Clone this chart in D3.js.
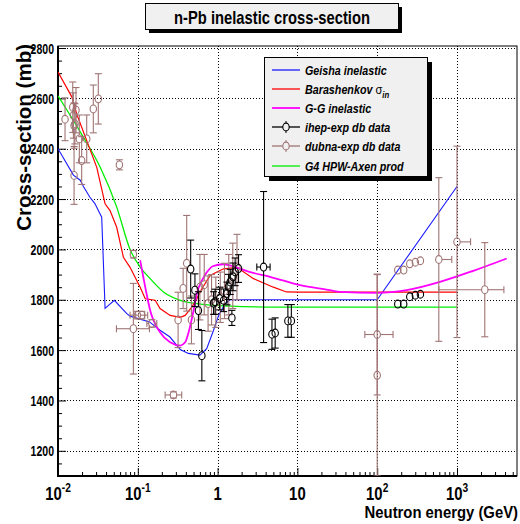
<!DOCTYPE html>
<html><head><meta charset="utf-8">
<script src="https://cdn.jsdelivr.net/npm/d3@7"></script>
<style>body{margin:0;background:#fff}svg{display:block}text{font-family:"Liberation Sans",Arial,sans-serif}</style>
</head><body>
<svg id="c" width="520" height="524"></svg>
<script>
// ---- data ----
const xMajor=[0.01,0.1,1,10,100,1000];
const xLabelBase=["10","10","1","10","10","10"];
const xLabelExp=["-2","-1","","","2","3"];
const yMajor=[1200,1400,1600,1800,2000,2200,2400,2600,2800];

const geishaE=[0.01,0.0156,0.019,0.021,0.025,0.029,0.0353,0.0389,0.0508,0.0728,0.08,0.14,0.19,0.253,0.34,0.43,0.6,0.73,0.89,1.03,1.24,1.44,100,1000];
const geishaV=[2400,2295,2275,2248,2208,2182,2128,1766,1798,1745,1735,1712,1679,1652,1602,1587,1580,1606,1679,1738,1785,1800,1800,2250];

const baraE=[0.01,0.0149,0.0172,0.0229,0.0306,0.0389,0.0449,0.0544,0.066,0.08,0.107,0.124,0.165,0.19,0.254,0.34,0.392,0.475,0.549,0.635,0.807,0.98,1.19,1.75,2.82,5.0,7.3,10.8,1000];
const baraV=[2705,2606,2537,2432,2326,2181,2154,2088,1969,1929,1850,1804,1798,1765,1738,1730,1738,1771,1804,1844,1897,1910,1923,1929,1884,1850,1831,1830,1830];

const ggE=[0.107,0.124,0.143,0.19,0.254,0.34,0.392,0.44,0.50,0.55,0.64,0.74,0.87,1.17,1.56,2.5,4.54,10.8,25.6,34,100,234,612,1600,4200];
const ggV=[1957,1850,1757,1671,1631,1618,1631,1679,1758,1825,1878,1911,1933,1941,1933,1911,1891,1858,1838,1831,1827,1838,1871,1915,1964];

const hpwE=[0.01,0.0207,0.0336,0.0543,0.08,0.107,0.142,0.21,0.34,0.55,1.44,5.9,1000];
const hpwV=[2610,2447,2328,2169,2000,1930,1885,1831,1798,1785,1775,1771,1771];

const ihepE=[0.46,0.52,0.575,0.635,0.89,0.93,1.06,1.19,1.31,1.37,1.44,1.56,1.66,1.83,1.51,3.77,4.8,5.27,7.6,8.4,181,215,256,301,348];
const ihepV=[1922,1838,1757,1578,1787,1792,1805,1798,1825,1851,1871,1891,1911,1924,1728,1930,1663,1668,1716,1716,1783,1783,1812,1818,1822];
const ihepErr=[115,65,75,100,45,50,45,45,45,50,50,55,55,55,30,300,60,60,65,65,0,0,0,0,0];
const ihepELo=[null,null,null,null,null,null,null,null,null,null,null,null,null,null,null,3.1,null,null,null,null,null,null,null,null,null];
const ihepEHi=[null,null,null,null,null,null,null,null,null,null,null,null,null,null,null,4.55,null,null,null,null,null,null,null,null,null];

const dubnaE=[0.01225,0.0153,0.0168,0.0156,0.0159,0.0163,0.0185,0.0229,0.0198,0.0277,0.032,0.0159,0.0588,0.088,0.088,0.0989,0.112,0.15,0.28,0.32,0.37,0.41,0.47,0.60,0.68,0.76,0.84,0.95,1.08,1.22,1.38,1.55,1.75,100,100,181,215,256,301,348,592,1000,2230];
const dubnaV=[2517,2565,2553,2532,2492,2499,2439,2439,2353,2558,2598,2294,2336,1981,1685,1739,1739,1706,1422,1720,1845,1945,1720,1850,1860,1785,1800,1790,1810,1835,1860,1895,1930,1662,1500,1918,1918,1943,1949,1955,1960,2030,1840];
const dubnaErr=[85,100,90,90,90,80,95,95,95,95,100,115,20,15,180,15,15,15,12,110,80,190,95,130,120,110,100,100,100,110,120,130,130,240,400,0,0,0,0,0,325,380,187];
const dubnaELo=[null,null,null,null,null,null,null,null,null,null,null,null,null,null,0.054,0.08,0.094,0.13,0.22,null,null,null,null,null,null,null,null,null,null,null,null,null,null,70,null,null,null,null,null,null,null,null,592];
const dubnaEHi=[null,null,null,null,null,null,null,null,null,null,null,null,null,null,0.14,0.122,0.133,0.173,0.355,null,null,null,null,null,null,null,null,null,null,null,null,null,null,158,null,null,null,null,null,null,860,1480,3870];

const legendLabels=["Geisha inelastic","Barashenkov ","G-G inelastic","ihep-exp db data","dubna-exp db data","G4 HPW-Axen prod"];

// ---- layout ----
const L=58,R=517,T=46,B=476;
const x=d3.scaleLog().domain([0.01,5650]).range([L,R]);
const y=d3.scaleLinear().domain([1100,2808]).range([B,T]);
const svg=d3.select("#c");
svg.append("rect").attr("width",520).attr("height",524).attr("fill","#fff");

svg.append("defs").append("clipPath").attr("id","clip")
  .append("rect").attr("x",L).attr("y",T).attr("width",R-L).attr("height",B-T);

// grid
const grid=svg.append("g").attr("stroke","#000").attr("stroke-width",1).attr("stroke-dasharray","1,2");
grid.selectAll("line.v").data(xMajor).join("line").attr("class","v")
  .attr("x1",d=>Math.round(x(d))+0.5).attr("x2",d=>Math.round(x(d))+0.5).attr("y1",T).attr("y2",B);
grid.selectAll("line.h").data(yMajor).join("line").attr("class","h")
  .attr("y1",d=>Math.round(y(d))+0.5).attr("y2",d=>Math.round(y(d))+0.5).attr("x1",L).attr("x2",R);

// ticks
const xMinor=[];
for(let d=-2;d<=3;d++)for(let k=2;k<=9;k++){const v=k*Math.pow(10,d);if(v<=5650)xMinor.push(v);}
const yMinor=d3.range(1100,2801,50).filter(v=>v%200!==0);
function styleAxis(g){g.select(".domain").remove();g.selectAll("line").attr("stroke","#000");g.selectAll("text").remove();}
svg.append("g").attr("transform",`translate(0,${B})`).call(d3.axisBottom(x).tickValues(xMinor).tickSize(-4).tickSizeOuter(0)).call(styleAxis);
svg.append("g").attr("transform",`translate(0,${B})`).call(d3.axisBottom(x).tickValues(xMajor).tickSize(-8).tickSizeOuter(0)).call(styleAxis);
svg.append("g").attr("transform",`translate(${L},0)`).call(d3.axisLeft(y).tickValues(yMinor).tickSize(-4).tickSizeOuter(0)).call(styleAxis);
svg.append("g").attr("transform",`translate(${L},0)`).call(d3.axisLeft(y).tickValues(yMajor).tickSize(-8).tickSizeOuter(0)).call(styleAxis);

// frame
svg.append("rect").attr("x",L).attr("y",T).attr("width",R-L).attr("height",B-T).attr("fill","none").attr("stroke","#000");
svg.append("line").attr("x1",L).attr("x2",L).attr("y1",T).attr("y2",B+1).attr("stroke","#000").attr("stroke-width",2);
svg.append("line").attr("x1",L-1).attr("x2",R).attr("y1",B).attr("y2",B).attr("stroke","#000").attr("stroke-width",2);

// tick labels
xMajor.forEach((v,i)=>{
  const t=svg.append("text").attr("transform",`translate(${x(v)},500) scale(0.85,1)`)
    .attr("text-anchor","middle").attr("font-weight","bold").attr("font-size",17.5);
  t.append("tspan").text(xLabelBase[i]);
  if(xLabelExp[i]) t.append("tspan").attr("font-size",12).attr("dy",-8).text(xLabelExp[i]);
});
yMajor.forEach(v=>{
  svg.append("text").attr("transform",`translate(54,${y(v)+5.5}) scale(0.68,1)`)
    .attr("text-anchor","end").attr("font-weight","bold").attr("font-size",15.5).text(v);
});
svg.append("text").attr("transform","translate(518,518) scale(0.9,1)").attr("text-anchor","end")
  .attr("font-weight","bold").attr("font-size",16.5).text("Neutron energy (GeV)");
svg.append("text").attr("transform","translate(31,44) rotate(-90)").attr("text-anchor","end")
  .attr("font-weight","bold").attr("font-size",20.5).text("Cross-section (mb)");

// curves
const plot=svg.append("g").attr("clip-path","url(#clip)");
const line=d3.line().x(d=>x(d[0])).y(d=>y(d[1]));
const lineS=d3.line().x(d=>x(d[0])).y(d=>y(d[1])).curve(d3.curveMonotoneX);
function curve(E,V,color,w,gen){plot.append("path").datum(E.map((e,i)=>[e,V[i]])).attr("d",gen).attr("fill","none").attr("stroke",color).attr("stroke-width",w);}
curve(hpwE,hpwV,"#00ee00",1.3,lineS);
curve(geishaE,geishaV,"#1a1aff",1.1,line);
curve(baraE,baraV,"#ff0000",1.2,line);
curve(ggE,ggV,"#ff00ff",1.8,lineS);

// points with error bars
const rx=3.2,ry=3.9,cap=3.5;
function points(E,V,Err,ELo,EHi,color){
  const g=plot.append("g").attr("stroke",color).attr("fill","none").attr("stroke-width",1.1);
  E.forEach((e,i)=>{
    const cx=x(e),cy=y(V[i]);
    if(Err[i]>0){
      const yt=y(V[i]+Err[i]),yb=y(V[i]-Err[i]);
      g.append("line").attr("x1",cx).attr("x2",cx).attr("y1",yt).attr("y2",cy-ry);
      g.append("line").attr("x1",cx).attr("x2",cx).attr("y1",cy+ry).attr("y2",yb);
      g.append("line").attr("x1",cx-cap).attr("x2",cx+cap).attr("y1",yt).attr("y2",yt);
      g.append("line").attr("x1",cx-cap).attr("x2",cx+cap).attr("y1",yb).attr("y2",yb);
    }
    if(ELo[i]){const xl=x(ELo[i]);
      g.append("line").attr("x1",xl).attr("x2",cx-rx).attr("y1",cy).attr("y2",cy);
      g.append("line").attr("x1",xl).attr("x2",xl).attr("y1",cy-cap).attr("y2",cy+cap);}
    if(EHi[i]){const xh=x(EHi[i]);
      g.append("line").attr("x1",cx+rx).attr("x2",xh).attr("y1",cy).attr("y2",cy);
      g.append("line").attr("x1",xh).attr("x2",xh).attr("y1",cy-cap).attr("y2",cy+cap);}
    g.append("ellipse").attr("cx",cx).attr("cy",cy).attr("rx",rx).attr("ry",ry);
  });
}
const dubnaColor="#a07474";
points(dubnaE,dubnaV,dubnaErr,dubnaELo,dubnaEHi,dubnaColor);
points(ihepE,ihepV,ihepErr,ihepELo,ihepEHi,"#000");

// title
svg.append("rect").attr("x",149).attr("y",7).attr("width",253).attr("height",26).attr("fill","#000");
svg.append("rect").attr("x",145.5).attr("y",3.5).attr("width",253).attr("height",26).attr("fill","#f0f0f0").attr("stroke","#000");
svg.append("text").attr("transform","translate(272,24) scale(0.82,1)").attr("text-anchor","middle")
  .attr("font-weight","bold").attr("font-size",18).text("n-Pb inelastic cross-section");

// legend
svg.append("rect").attr("x",269).attr("y",62).attr("width",163).attr("height",119).attr("fill","#000");
svg.append("rect").attr("x",264.5).attr("y",57.5).attr("width",163).attr("height",119).attr("fill","#f0f0f0").attr("stroke","#000");
const legY=[70,89,108,127,146,166];
const legColors=["#1a1aff","#ff0000","#ff00ff","#000",dubnaColor,"#00ee00"];
legendLabels.forEach((lab,i)=>{
  const ly=legY[i];
  svg.append("line").attr("x1",272).attr("x2",300).attr("y1",ly).attr("y2",ly).attr("stroke",legColors[i]).attr("stroke-width",i===2?1.8:1.3);
  if(i===3||i===4){
    svg.append("line").attr("x1",286).attr("x2",286).attr("y1",ly-6).attr("y2",ly+6).attr("stroke",legColors[i]);
    svg.append("ellipse").attr("cx",286).attr("cy",ly).attr("rx",rx).attr("ry",ry).attr("fill","#f0f0f0").attr("stroke",legColors[i]).attr("stroke-width",1.1);
  }
  const t=svg.append("text").attr("transform",`translate(305,${ly+4.5}) scale(0.86,1)`)
    .attr("font-weight","bold").attr("font-style","italic").attr("font-size",12.5);
  t.append("tspan").text(lab);
  if(i===1){
    t.append("tspan").attr("font-style","normal").attr("font-weight","normal").attr("font-size",13).text("σ");
    t.append("tspan").attr("font-size",9).attr("dy",4).text("in");
  }
});
</script>
</body></html>
